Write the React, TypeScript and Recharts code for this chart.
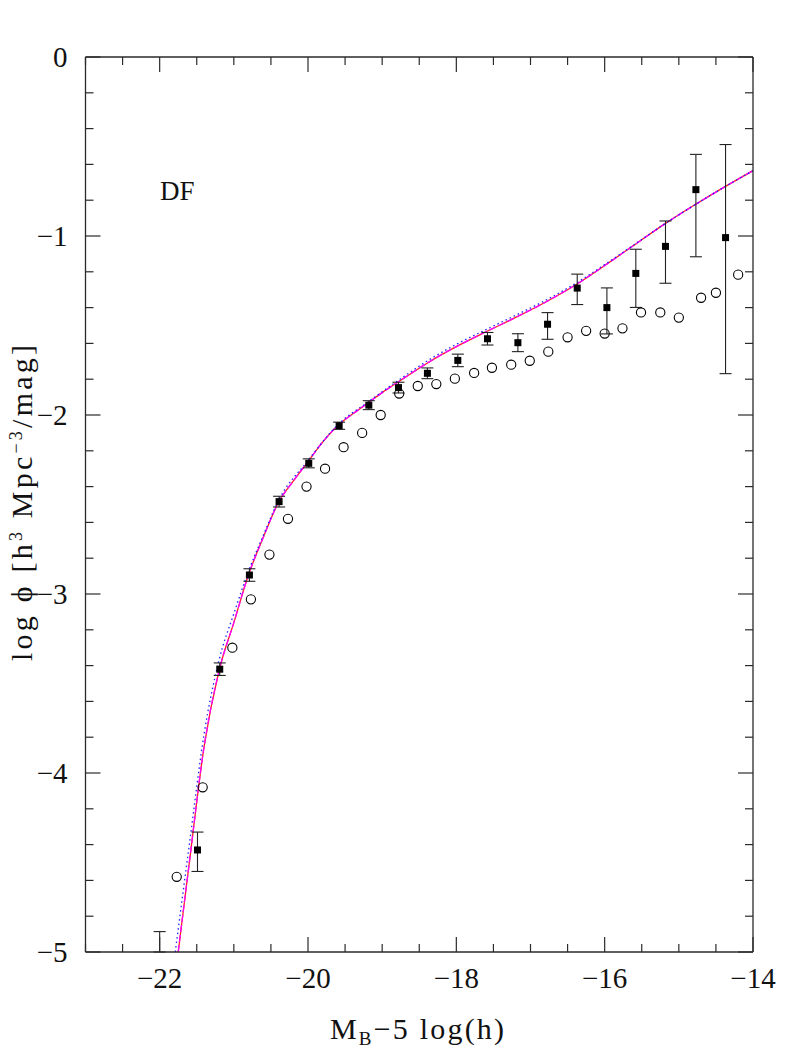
import React from "react";
import {
  ComposedChart,
  XAxis,
  YAxis,
  Scatter,
  Line,
  ErrorBar,
  Customized,
} from "recharts";

const FONT = "'Liberation Serif', 'Times New Roman', serif";
const AX = "#2a2a2a";
const INK = "#111";

// axis ticks: minor every 0.5 mag / 0.2 dex, labels on the long ones
const xTicks = [
  -23, -22.5, -22, -21.5, -21, -20.5, -20, -19.5, -19, -18.5, -18, -17.5,
  -17, -16.5, -16, -15.5, -15, -14.5, -14,
];
const xLabelled = [-22, -20, -18, -16, -14];
const yTicks = [
  0, -0.2, -0.4, -0.6, -0.8, -1, -1.2, -1.4, -1.6, -1.8, -2, -2.2, -2.4, -2.6,
  -2.8, -3, -3.2, -3.4, -3.6, -3.8, -4, -4.2, -4.4, -4.6, -4.8, -5,
];
const yLabelled = [0, -1, -2, -3, -4, -5];

// filled squares with (asymmetric) errors; the brightest one sits below the frame
const sqMag = [
  -22.0, -21.49, -21.19, -20.79, -20.39, -19.99, -19.58, -19.18, -18.78,
  -18.39, -17.98, -17.58, -17.17, -16.77, -16.37, -15.97, -15.58, -15.18,
  -14.77, -14.37,
];
const sqPhi = [
  -5.3, -4.43, -3.42, -2.894, -2.484, -2.27, -2.06, -1.945, -1.847, -1.767,
  -1.695, -1.574, -1.596, -1.493, -1.291, -1.4, -1.209, -1.058, -0.741, -1.009,
];
const sqErrLo = [
  -0.3, 0.12, 0.035, 0.035, 0.03, 0.025, 0.02, 0.025, 0.03, 0.03, 0.035, 0.035,
  0.05, 0.084, 0.092, 0.147, 0.19, 0.206, 0.375, 0.76,
];
const sqErrHi = [
  0.414, 0.1, 0.035, 0.035, 0.03, 0.025, 0.02, 0.025, 0.03, 0.03, 0.035, 0.035,
  0.05, 0.065, 0.078, 0.11, 0.135, 0.142, 0.197, 0.52,
];

// open circles
const ocMag = [
  -21.77, -21.42, -21.02, -20.77, -20.52, -20.27, -20.02, -19.77, -19.52,
  -19.27, -19.02, -18.77, -18.52, -18.27, -18.02, -17.76, -17.52, -17.26,
  -17.01, -16.76, -16.5, -16.25, -16.0, -15.76, -15.51, -15.25, -15.0, -14.7,
  -14.5, -14.2,
];
const ocPhi = [
  -4.58, -4.08, -3.3, -3.03, -2.78, -2.58, -2.4, -2.3, -2.18, -2.1, -2.0,
  -1.88, -1.838, -1.827, -1.797, -1.765, -1.736, -1.719, -1.697, -1.646,
  -1.566, -1.53, -1.545, -1.516, -1.427, -1.427, -1.456, -1.345, -1.317,
  -1.216,
];

// fitted curves
const fitMag = [
  -21.75, -21.6, -21.4, -21.2, -21.0, -20.8, -20.6, -20.4, -20.2, -20.0,
  -19.8, -19.6, -19.4, -19.2, -19.0, -18.8, -18.6, -18.4, -18.2, -18.0, -17.6,
  -17.2, -16.8, -16.4, -16.0, -15.6, -15.2, -14.8, -14.4, -14.0,
];
const redPhi = [
  -5.0, -4.5, -3.85, -3.43, -3.16, -2.89, -2.68, -2.49, -2.37, -2.26, -2.15,
  -2.06, -1.995, -1.935, -1.875, -1.82, -1.765, -1.712, -1.663, -1.618, -1.535,
  -1.455, -1.37, -1.275, -1.165, -1.05, -0.935, -0.83, -0.73, -0.635,
];
const magentaPhi = [
  -5.0, -4.5, -3.85, -3.43, -3.16, -2.89, -2.68, -2.49, -2.37, -2.26, -2.15,
  -2.06, -1.995, -1.935, -1.875, -1.82, -1.765, -1.712, -1.663, -1.618, -1.535,
  -1.455, -1.37, -1.275, -1.165, -1.05, -0.935, -0.83, -0.73, -0.635,
];
const blueMag = [
  -21.79, -21.6, -21.4, -21.2, -21.0, -20.8, -20.6, -20.4, -20.0, -19.6,
  -19.2, -18.8, -18.4, -18.0, -17.6, -17.2, -16.8, -16.4, -16.0, -15.6, -15.2,
  -14.8, -14.4, -14.0,
];
const bluePhi = [
  -5.0, -4.4, -3.78, -3.37, -3.11, -2.87, -2.67, -2.48, -2.255, -2.055, -1.93,
  -1.812, -1.7, -1.605, -1.523, -1.443, -1.36, -1.267, -1.16, -1.048, -0.935,
  -0.83, -0.73, -0.635,
];

const squares = sqMag.map((x, i) => ({
  x,
  y: sqPhi[i],
  err: [sqErrLo[i], sqErrHi[i]],
}));
const circles = ocMag.map((x, i) => ({ x, y: ocPhi[i] }));
const red = fitMag.map((x, i) => ({ x, y: redPhi[i] }));
const magenta = fitMag.map((x, i) => ({ x, y: magentaPhi[i] }));
const blue = blueMag.map((x, i) => ({ x, y: bluePhi[i] }));

const fmt = (v: number) => (v < 0 ? `\u2212${Math.abs(v)}` : `${v}`);

const BottomTick = ({ x, y, payload }: any) => {
  const major = xLabelled.includes(payload.value);
  return (
    <g>
      <line x1={x} y1={y} x2={x} y2={y - (major ? 15 : 8)} stroke={AX} strokeWidth={1.2} />
      {major && (
        <text x={x} y={y + 36} textAnchor="middle" fontFamily={FONT} fontSize={29} fill={INK}>
          {fmt(payload.value)}
        </text>
      )}
    </g>
  );
};

const TopTick = ({ x, y, payload }: any) => {
  const major = xLabelled.includes(payload.value);
  return <line x1={x} y1={y} x2={x} y2={y + (major ? 15 : 8)} stroke={AX} strokeWidth={1.2} />;
};

const LeftTick = ({ x, y, payload }: any) => {
  const major = yLabelled.includes(payload.value);
  return (
    <g>
      <line x1={x} y1={y} x2={x + (major ? 15 : 8)} y2={y} stroke={AX} strokeWidth={1.2} />
      {major && (
        <text x={x - 18} y={y} dy="0.35em" textAnchor="end" fontFamily={FONT} fontSize={29} fill={INK}>
          {fmt(payload.value)}
        </text>
      )}
    </g>
  );
};

const RightTick = ({ x, y, payload }: any) => {
  const major = yLabelled.includes(payload.value);
  return <line x1={x} y1={y} x2={x - (major ? 15 : 8)} y2={y} stroke={AX} strokeWidth={1.2} />;
};

const Square = ({ cx, cy }: any) => (
  <rect x={cx - 3.5} y={cy - 3.5} width={7} height={7} fill="#000" />
);
const Ring = ({ cx, cy }: any) => (
  <circle cx={cx} cy={cy} r={4.6} fill="none" stroke="#000" strokeWidth={1.1} />
);

const Titles = () => (
  <g fontFamily={FONT} fill={INK}>
    <text x={152} y={192} fontSize={27}>DF</text>
    <text x={409} y={1031} fontSize={30} textAnchor="middle" textLength={174} lengthAdjust="spacing">
      M<tspan fontSize={19} dy={6}>B</tspan>
      <tspan dy={-6}>{"\u22125 log(h)"}</tspan>
    </text>
    <text
      x={24}
      y={495}
      fontSize={30}
      textAnchor="middle"
      textLength={316}
      lengthAdjust="spacing"
      transform="rotate(-90, 24, 495)"
    >
      {"log \u03D5 [h"}
      <tspan fontSize={18} dy={-10}>3</tspan>
      <tspan dy={10}>{" Mpc"}</tspan>
      <tspan fontSize={18} dy={-10}>{"\u22123"}</tspan>
      <tspan dy={10}>/mag]</tspan>
    </text>
  </g>
);

export default function App() {
  const axisLine = { stroke: AX, strokeWidth: 1.3 };
  return (
    <ComposedChart
      width={780}
      height={1040}
      margin={{ top: 48, right: 34, bottom: 36, left: 0 }}
    >
      <XAxis
        xAxisId="b"
        dataKey="x"
        type="number"
        domain={[-23, -14]}
        ticks={xTicks}
        interval={0}
        allowDataOverflow
        height={60}
        tickSize={0}
        tickMargin={0}
        tickLine={false}
        axisLine={axisLine}
        tick={(p: any) => <BottomTick {...p} />}
      />
      <XAxis
        xAxisId="t"
        orientation="top"
        dataKey="x"
        type="number"
        domain={[-23, -14]}
        ticks={xTicks}
        interval={0}
        allowDataOverflow
        height={1}
        tickSize={0}
        tickMargin={0}
        tickLine={false}
        axisLine={axisLine}
        tick={(p: any) => <TopTick {...p} />}
      />
      <YAxis
        yAxisId="l"
        dataKey="y"
        type="number"
        domain={[-5, 0]}
        ticks={yTicks}
        interval={0}
        allowDataOverflow
        width={77.5}
        tickSize={0}
        tickMargin={0}
        tickLine={false}
        axisLine={axisLine}
        tick={(p: any) => <LeftTick {...p} />}
      />
      <YAxis
        yAxisId="r"
        orientation="right"
        dataKey="y"
        type="number"
        domain={[-5, 0]}
        ticks={yTicks}
        interval={0}
        allowDataOverflow
        width={1}
        tickSize={0}
        tickMargin={0}
        tickLine={false}
        axisLine={axisLine}
        tick={(p: any) => <RightTick {...p} />}
      />

      <Line
        xAxisId="b"
        yAxisId="l"
        data={red}
        dataKey="y"
        type="monotone"
        stroke="#ff2020"
        strokeWidth={1.3}
        dot={false}
        activeDot={false}
        isAnimationActive={false}
      />
      <Line
        xAxisId="b"
        yAxisId="l"
        data={magenta}
        dataKey="y"
        type="monotone"
        stroke="#ff00ff"
        strokeWidth={1.3}
        strokeDasharray="7 3"
        dot={false}
        activeDot={false}
        isAnimationActive={false}
      />
      <Line
        xAxisId="b"
        yAxisId="l"
        data={blue}
        dataKey="y"
        type="monotone"
        stroke="#2020ff"
        strokeWidth={1.3}
        strokeDasharray="1.5 3"
        dot={false}
        activeDot={false}
        isAnimationActive={false}
      />

      <Scatter
        xAxisId="b"
        yAxisId="l"
        data={circles}
        dataKey="y"
        shape={(p: any) => <Ring {...p} />}
        isAnimationActive={false}
      />
      <Scatter
        xAxisId="b"
        yAxisId="l"
        data={squares}
        dataKey="y"
        shape={(p: any) => <Square {...p} />}
        isAnimationActive={false}
      >
        <ErrorBar
          dataKey="err"
          direction="y"
          width={6}
          stroke="#222"
          strokeWidth={1.1}
          isAnimationActive={false}
        />
      </Scatter>

      <Customized component={Titles} />
    </ComposedChart>
  );
}
